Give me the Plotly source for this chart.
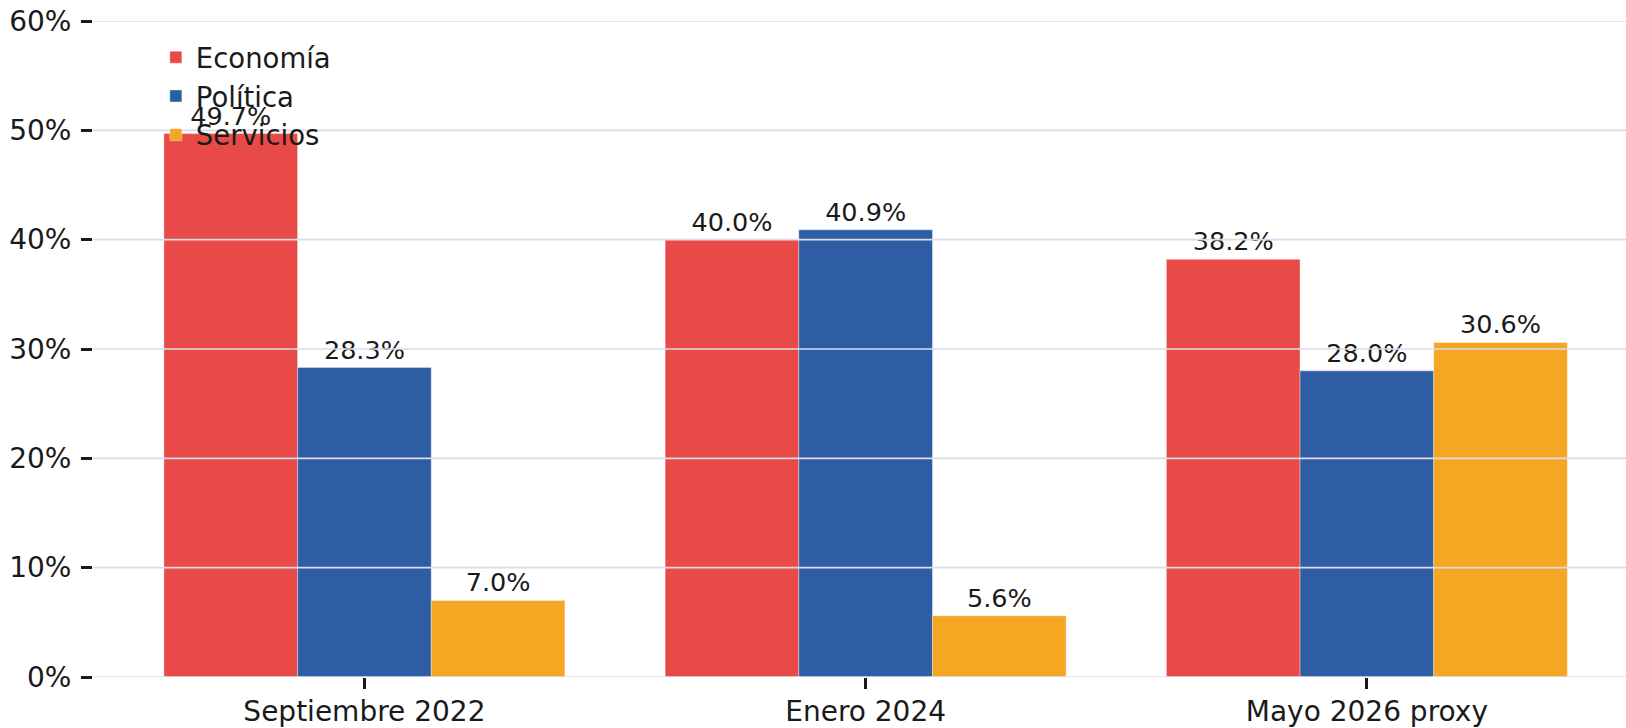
import plotly.graph_objects as go

periods = ["Septiembre 2022", "Enero 2024", "Mayo 2026 proxy"]
series_names = ["Economía", "Política", "Servicios"]
economia = [49.7, 40.0, 38.2]
politica = [28.3, 40.9, 28.0]
servicios = [7.0, 5.6, 30.6]
y_ticks = [0, 10, 20, 30, 40, 50, 60]
y_tick_labels = ["0%", "10%", "20%", "30%", "40%", "50%", "60%"]

colors = ["#E84B47", "#2E5DA3", "#F5A623"]
font_family = "DejaVu Sans"

fig = go.Figure()
for name, vals, col in zip(series_names, [economia, politica, servicios], colors):
    fig.add_trace(go.Bar(
        x=periods, y=vals, name=name,
        marker=dict(color=col, line=dict(color="rgba(255,255,255,0.45)", width=0.8)),
        text=[f"{v:.1f}%" for v in vals],
        textposition="outside",
        textfont=dict(size=25.5, color="#1a1a1a", family=font_family),
        cliponaxis=False,
    ))

# gridlines drawn above bars
for t in y_ticks:
    fig.add_shape(type="line", xref="paper", x0=0, x1=1, yref="y", y0=t, y1=t,
                  line=dict(color="#d9dcea", width=1.6), layer="above")

fig.update_layout(
    width=1626, height=728,
    margin=dict(l=93, r=0, t=21, b=51, autoexpand=False),
    plot_bgcolor="white", paper_bgcolor="white",
    barmode="group", bargap=0.2, bargroupgap=0,
    font=dict(family=font_family, size=27, color="#1a1a1a"),
    showlegend=True,
    legend=dict(x=0.041, y=0.982, xanchor="left", yanchor="top",
                bgcolor="rgba(0,0,0,0)", font=dict(size=27.5, color="#1a1a1a"),
                tracegroupgap=0),
)
fig.update_xaxes(range=[-0.5415, 2.517], showgrid=False, showline=False, zeroline=False,
                 ticks="outside", ticklen=11, tickwidth=2.5, tickcolor="#1a1a1a",
                 tickfont=dict(size=28), automargin=False, ticklabelstandoff=-2)
fig.update_yaxes(range=[0, 60], tickvals=y_ticks, ticktext=y_tick_labels, showgrid=False,
                 showline=False, zeroline=False,
                 ticks="outside", ticklen=11, tickwidth=2.5, tickcolor="#1a1a1a",
                 tickfont=dict(size=28), automargin=False, ticklabelstandoff=4)

fig.write_html(
    "out.html",
    config={"displayModeBar": False},
    post_script="document.body.style.margin='0';document.body.style.overflow='hidden';",
)
